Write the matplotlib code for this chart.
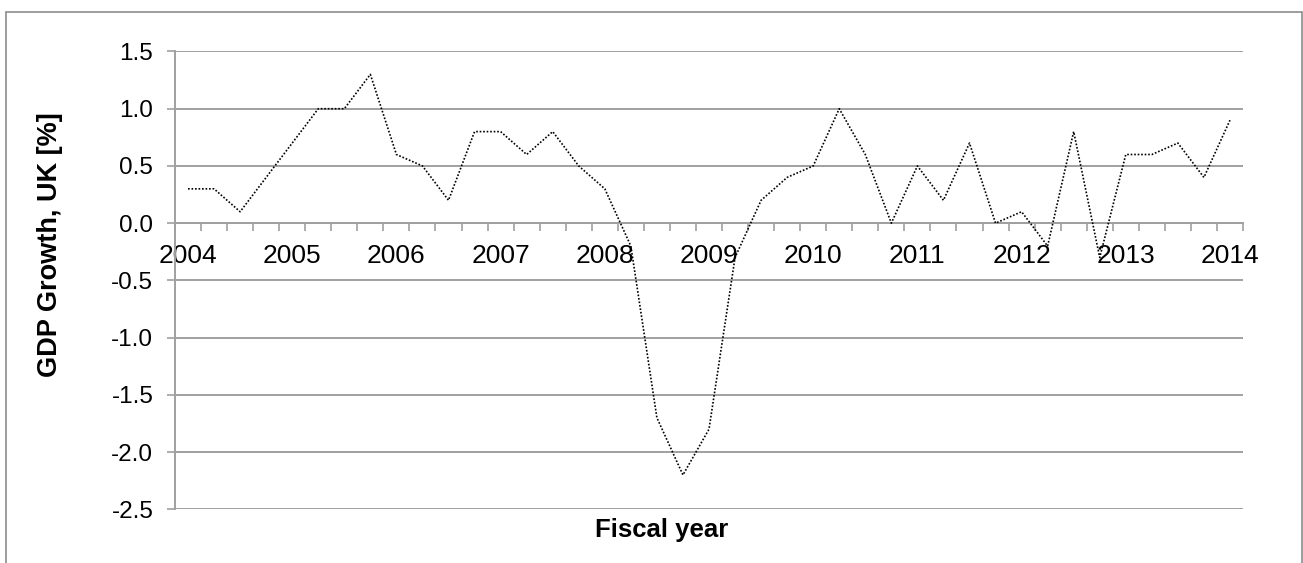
import matplotlib
matplotlib.use("Agg")
import matplotlib.pyplot as plt
from matplotlib.patches import Rectangle
from matplotlib.ticker import FixedLocator

# quarterly GDP growth, UK, 2004 Q1 .. 2014 Q1
quarters = list(range(41))
gdp_growth = [0.3, 0.3, 0.1, 0.4, 0.7, 1.0, 1.0, 1.3, 0.6, 0.5, 0.2, 0.8, 0.8, 0.6,
              0.8, 0.5, 0.3, -0.2, -1.7, -2.2, -1.8, -0.3, 0.2, 0.4, 0.5, 1.0, 0.6,
              0.0, 0.5, 0.2, 0.7, 0.0, 0.1, -0.2, 0.8, -0.3, 0.6, 0.6, 0.7, 0.4, 0.9]
year_labels = [str(y) for y in range(2004, 2015)]
year_pos = quarters[::4]
y_ticks = [-2.5, -2.0, -1.5, -1.0, -0.5, 0.0, 0.5, 1.0, 1.5]

plt.rcParams["font.family"] = ["Liberation Sans", "DejaVu Sans"]

W, H = 1303, 563
fig = plt.figure(figsize=(W / 100, H / 100), dpi=100)

# chart border (bottom edge runs off the image)
fig.patches.append(Rectangle((6 / W, -0.2), 1296 / W, 1.2 - 11.7 / H,
                             transform=fig.transFigure, fill=False,
                             edgecolor="#8c8c8c", linewidth=1.2))

left, right = 175 / W, 1243 / W
bottom, top = 1 - 509.3 / H, 1 - 51.5 / H
ax = fig.add_axes([left, bottom, right - left, top - bottom])

grid_col = "#a0a0a0"
ax.plot(quarters, gdp_growth, color="black", linewidth=1.2, linestyle=(0, (1, 1.1)),
        zorder=3, clip_on=False)

ax.set_ylim(-2.5, 1.5)
ax.set_xlim(-0.5, 40.5)
ax.set_yticks(y_ticks)
ax.set_yticklabels([f"{v:.1f}" for v in y_ticks])
ax.yaxis.grid(True, color=grid_col, linewidth=1.4)
ax.set_axisbelow(True)

for s in ("top", "right"):
    ax.spines[s].set_visible(False)
ax.spines["left"].set_color(grid_col)
ax.spines["left"].set_linewidth(1.4)
ax.spines["bottom"].set_position(("data", 0))
ax.spines["bottom"].set_color(grid_col)
ax.spines["bottom"].set_linewidth(1.4)

# tick marks at category boundaries, year labels under quarter 1
ax.xaxis.set_major_locator(FixedLocator([q - 0.5 for q in quarters] + [40.5]))
ax.xaxis.set_major_formatter(plt.NullFormatter())
ax.xaxis.set_minor_locator(FixedLocator(year_pos))
ax.set_xticklabels(year_labels, minor=True)
ax.tick_params(axis="x", which="major", direction="out", length=5.6, width=1.2, color=grid_col)
ax.tick_params(axis="x", which="minor", length=0, pad=15, labelsize=19)
ax.tick_params(axis="y", direction="out", length=5.6, width=1.2, color=grid_col,
               pad=10, labelsize=17.5)

fig.text(50 / W, 1 - 245 / H, "GDP Growth, UK [%]", rotation=90, ha="center", va="center",
         fontsize=19.5, fontweight="bold")
fig.text(661.5 / W, 1 - 536.7 / H, "Fiscal year", ha="center", va="baseline",
         fontsize=18.5, fontweight="bold")

fig.savefig("out.png", dpi=100)
